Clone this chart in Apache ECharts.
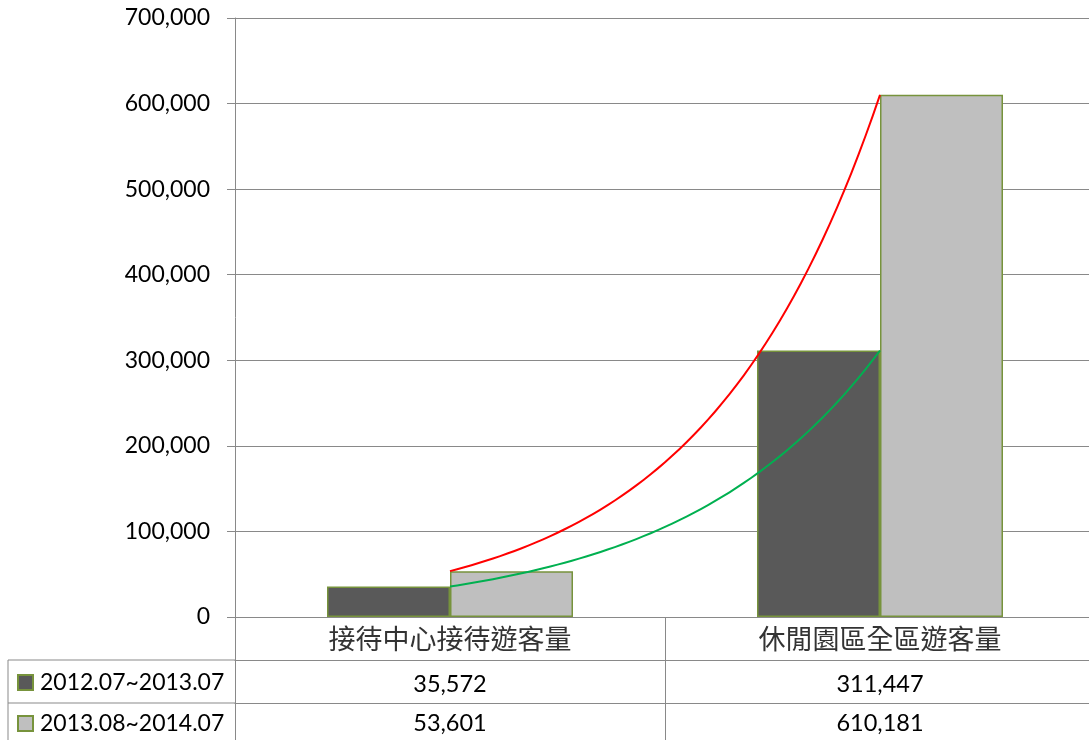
<!DOCTYPE html>
<html>
<head>
<meta charset="utf-8">
<script src="https://cdn.jsdelivr.net/npm/echarts@6/dist/echarts.min.js"></script>
<style>
  html, body { margin: 0; padding: 0; background: #fff; overflow: hidden; }
  #main { width: 1100px; height: 740px; }
</style>
</head>
<body>
<div id="main"></div>
<script>
// 類別
var categories = ['接待中心接待遊客量', '休閒園區全區遊客量']
// 兩期遊客數
var seriesNames = ['2012.07~2013.07', '2013.08~2014.07']
var period1 = [35572, 311447]
var period2 = [53601, 610181]
// 縱軸刻度
var yTicks = [0, 100000, 200000, 300000, 400000, 500000, 600000, 700000]

var gridColor = '#898989'
var borderOlive = '#77933C'
var fontLatin = 'Lato, "Noto Sans", sans-serif'
var fontCJK = '"Noto Sans CJK TC", "Noto Sans CJK SC", sans-serif'

function fmt(v) {
  return v.toLocaleString('en-US')
}

// 指數趨勢線 (Excel exponential trendline through the two category values)
function trendSeries(values, color) {
  return {
    type: 'custom',
    xAxisIndex: 0,
    yAxisIndex: 0,
    silent: true,
    z: 5,
    data: values.map(function (v, i) { return [i, v] }),
    renderItem: function (params, api) {
      if (params.dataIndex !== 0) return
      var a = values[0], b = values[1]
      var p0 = api.coord([0, a])
      var p1 = api.coord([1, b])
      var pts = []
      for (var i = 0; i <= 60; i++) {
        var t = i / 60
        var v = a * Math.pow(b / a, t)
        pts.push([p0[0] + (p1[0] - p0[0]) * t, api.coord([0, v])[1]])
      }
      return {
        type: 'polyline',
        shape: { points: pts },
        style: { stroke: color, lineWidth: 2, fill: null }
      }
    }
  }
}

function legendRow(name, top) {
  return {
    data: [name],
    left: 12,
    top: top,
    itemWidth: 15,
    itemHeight: 15,
    itemGap: 0,
    icon: 'rect',
    textStyle: { fontSize: 23, color: '#000', fontFamily: fontLatin, padding: [0, 0, 0, 2] }
  }
}

var myChart = echarts.init(document.getElementById('main'))
myChart.setOption({
  animation: false,
  backgroundColor: '#fff',
  textStyle: { fontFamily: fontLatin },
  grid: { left: 235, top: 18, width: 860, height: 599, containLabel: false },
  legend: [
    legendRow(seriesNames[0], 666),
    legendRow(seriesNames[1], 707)
  ],
  xAxis: [
    {
      type: 'category',
      data: categories,
      position: 'bottom',
      axisLine: { show: true, lineStyle: { color: gridColor, width: 1 } },
      axisTick: { show: true, length: 123, inside: false, lineStyle: { color: gridColor, width: 1 } },
      axisLabel: { fontSize: 27, color: '#333', fontFamily: fontCJK, margin: 8 },
      splitLine: { show: false }
    },
    {
      type: 'category',
      data: period1.map(fmt),
      position: 'bottom',
      offset: 43,
      axisLine: { show: true, lineStyle: { color: gridColor, width: 1 } },
      axisTick: { show: false },
      axisLabel: { fontSize: 23.5, color: '#000', margin: 12 }
    },
    {
      type: 'category',
      data: period2.map(fmt),
      position: 'bottom',
      offset: 86,
      axisLine: { show: true, lineStyle: { color: gridColor, width: 1 } },
      axisTick: { show: false },
      axisLabel: { fontSize: 23.5, color: '#000', margin: 8 }
    }
  ],
  yAxis: {
    type: 'value',
    min: yTicks[0],
    max: yTicks[yTicks.length - 1],
    interval: yTicks[1] - yTicks[0],
    axisLine: { show: true, lineStyle: { color: gridColor, width: 1 } },
    axisTick: { show: true, length: 8, lineStyle: { color: gridColor, width: 1 } },
    axisLabel: { fontSize: 23, color: '#000', margin: 25, formatter: fmt },
    splitLine: { show: true, lineStyle: { color: gridColor, width: 1 } }
  },
  graphic: [
    { type: 'line', shape: { x1: 8, y1: 660, x2: 235, y2: 660 }, style: { stroke: gridColor, lineWidth: 1 } },
    { type: 'line', shape: { x1: 8, y1: 703, x2: 235, y2: 703 }, style: { stroke: gridColor, lineWidth: 1 } },
    { type: 'line', shape: { x1: 8, y1: 660, x2: 8, y2: 740 }, style: { stroke: gridColor, lineWidth: 1 } }
  ],
  series: [
    {
      name: seriesNames[0],
      type: 'bar',
      data: period1,
      barWidth: 123,
      barGap: '0%',
      itemStyle: { color: '#595959', borderColor: borderOlive, borderWidth: 1.5 }
    },
    {
      name: seriesNames[1],
      type: 'bar',
      data: period2,
      barWidth: 123,
      barGap: '0%',
      itemStyle: { color: '#BFBFBF', borderColor: borderOlive, borderWidth: 1.5 }
    },
    trendSeries(period2, '#FF0000'),
    trendSeries(period1, '#00B050')
  ]
})
</script>
</body>
</html>
